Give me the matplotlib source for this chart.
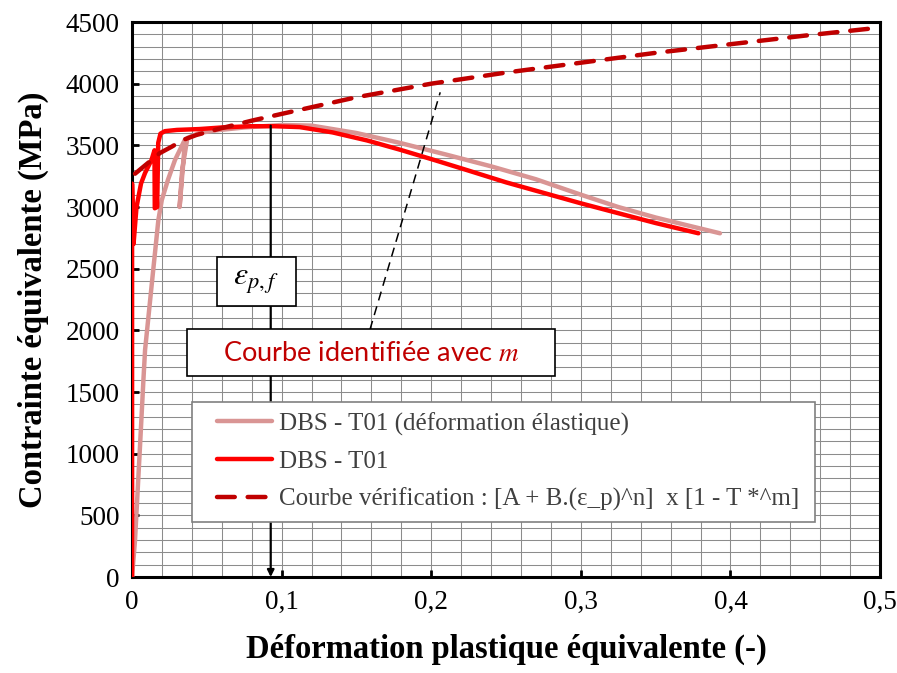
import numpy as np
import matplotlib.pyplot as plt
from matplotlib.patches import Rectangle
from matplotlib.ticker import MultipleLocator

plt.rcParams["font.family"] = ["Liberation Serif", "DejaVu Serif"]
plt.rcParams["mathtext.fontset"] = "stix"


# 1. Donnees

# DBS - T01 (deformation plastique)
eps_t01 = [0, 0, 0.001, 0.003, 0.006, 0.0087, 0.013, 0.0150, 0.0152, 0.0168,
           0.0175, 0.019, 0.022, 0.03, 0.045, 0.06, 0.079, 0.095, 0.112,
           0.134, 0.157, 0.179, 0.201, 0.225, 0.25, 0.275, 0.30, 0.325,
           0.35, 0.3786]
sig_t01 = [0, 3190, 2700, 3000, 3190, 3276, 3381, 3460, 2990, 3000,
           3520, 3595, 3615, 3625, 3632, 3645, 3655, 3655, 3648,
           3605, 3540, 3465, 3385, 3295, 3200, 3115, 3030, 2950,
           2870, 2787]

# DBS - T01 (avec deformation elastique)
eps_elas = [0, 0.002, 0.0053, 0.0076, 0.0087, 0.0134, 0.0176, 0.0199, 0.024,
            0.0287, 0.0355, 0.0318, 0.0335, 0.037, 0.045, 0.055, 0.075, 0.10,
            0.12, 0.15, 0.179, 0.21, 0.24, 0.27, 0.30, 0.325, 0.35,
            0.37, 0.393]
sig_elas = [0, 300, 1054, 1597, 1840, 2400, 2895, 3057, 3220,
            3381, 3550, 3000, 3300, 3560, 3600, 3620, 3645, 3665,
            3660, 3600, 3520, 3425, 3330, 3225, 3100, 3000, 2915,
            2855, 2787]

# Courbe de verification
eps_verif = [0.002, 0.0187, 0.0265, 0.034, 0.043, 0.06, 0.08, 0.1, 0.15,
             0.2, 0.25, 0.3, 0.35, 0.4, 0.45, 0.5]
sig_verif = [3270, 3438, 3489, 3543, 3584, 3640, 3700, 3755, 3890,
             4000, 4090, 4170, 4250, 4320, 4390, 4455]

eps_rupture = 0.0927
sig_rupture = 3660

x_ticks = [0, 0.1, 0.2, 0.3, 0.4, 0.5]
x_tick_labels = ["0", "0,1", "0,2", "0,3", "0,4", "0,5"]
y_ticks = list(range(0, 4501, 500))


# 2. Figure

fig = plt.figure(figsize=(8.97, 6.73), dpi=100)
ax = fig.add_axes([0.1472, 0.1426, 0.8339, 0.8247])

ax.plot(eps_elas, sig_elas, color="#D99594", lw=3.2,
        label="DBS - T01 (déformation élastique)", zorder=3,
        solid_capstyle="round", solid_joinstyle="round")
ax.plot(eps_t01, sig_t01, color="#FF0000", lw=3.2,
        label="DBS - T01", zorder=4,
        solid_capstyle="round", solid_joinstyle="round")
ax.plot(eps_verif, sig_verif, color="#C00000", lw=3.2, dashes=(4.0, 2.9),
        dash_capstyle="round",
        label="Courbe vérification : [A + B.(ε_p)^n]  x [1 - T *^m]", zorder=5)

# trait vertical epsilon p,f
ax.annotate("", xy=(eps_rupture, 0), xytext=(eps_rupture, sig_rupture),
            arrowprops=dict(arrowstyle="-|>", color="black", lw=1.6,
                            mutation_scale=10, shrinkA=0, shrinkB=0),
            zorder=6)

# trait pointille vers la courbe
ax.plot([0.159, 0.206], [2005, 3930], color="black", lw=1.1,
        dashes=(6, 4), zorder=6)

# boites de texte
ax.add_patch(Rectangle((0.0566, 2197), 0.053, 395, facecolor="white",
                       edgecolor="black", lw=1.2, zorder=7))
ax.text(0.0831, 2394, r"$\varepsilon_{p,f}$", fontsize=23,
        ha="center", va="center", zorder=8)

ax.add_patch(Rectangle((0.037, 1630), 0.246, 378, facecolor="white",
                       edgecolor="black", lw=1.2, zorder=7))
ax.text(0.160, 1815, r"Courbe identifiée avec $m$", fontsize=19.5,
        family=["Lato", "DejaVu Sans"], color="#C00000",
        ha="center", va="center", zorder=8)

ax.set_xlim(0, 0.5)
ax.set_ylim(0, 4500)
ax.set_xticks(x_ticks)
ax.set_xticklabels(x_tick_labels)
ax.set_yticks(y_ticks)
ax.xaxis.set_minor_locator(MultipleLocator(0.02))
ax.yaxis.set_minor_locator(MultipleLocator(100))
ax.grid(which="both", color="#8C8C8C", lw=0.75, zorder=0)
ax.set_axisbelow(True)
ax.tick_params(which="major", direction="in", length=5, width=2,
               labelsize=19.5, pad=9)
ax.tick_params(which="minor", length=0)
for s in ax.spines.values():
    s.set_linewidth(2.2)

ax.set_xlabel("Déformation plastique équivalente (-)", fontsize=23.5,
              fontweight="bold", labelpad=14)
ax.set_ylabel("Contrainte équivalente (MPa)", fontsize=23.5,
              fontweight="bold", labelpad=12)

# cadre de la legende
ax.add_patch(Rectangle((0.080, 0.099), 0.833, 0.216, transform=ax.transAxes,
                       facecolor="white", edgecolor="#808080", lw=1.2,
                       zorder=8))
leg = ax.legend(loc="center left", bbox_to_anchor=(0.1136, 0.2077),
                fontsize=18, handlelength=2.2, handletextpad=0.28,
                labelspacing=0.6, borderpad=0, borderaxespad=0,
                frameon=False)
leg.set_zorder(9)
for t in leg.get_texts():
    t.set_color("#404040")

plt.savefig("out.png", dpi=100)
plt.close()
